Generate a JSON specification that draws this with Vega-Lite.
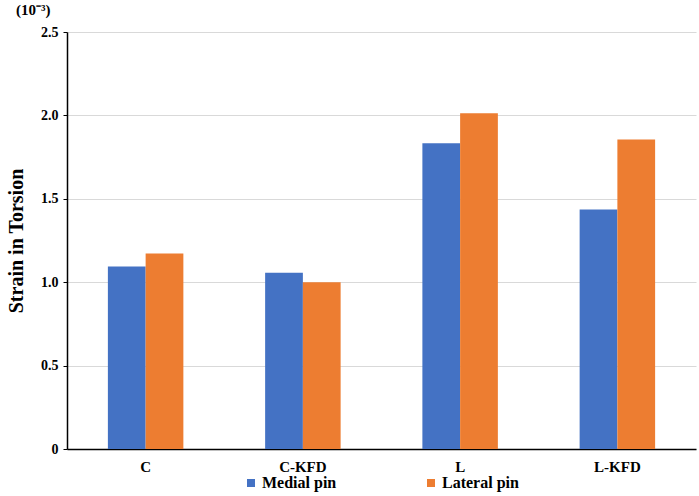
{
  "$schema": "https://vega.github.io/schema/vega-lite/v6.json",
  "autosize": "none",
  "width": 629,
  "height": 417,
  "padding": {"left": 67, "top": 32, "right": 3, "bottom": 47},
  "background": "white",
  "title": {
    "text": "(10⁻³)",
    "anchor": "start",
    "frame": "group",
    "dx": -51,
    "offset": 7,
    "fontSize": 15,
    "font": "Liberation Serif",
    "fontWeight": "bold",
    "color": "black"
  },
  "data": {
    "values": [
      {"group": "C", "pin": "Medial pin", "strain": 1.094},
      {"group": "C", "pin": "Lateral pin", "strain": 1.172},
      {"group": "C-KFD", "pin": "Medial pin", "strain": 1.056},
      {"group": "C-KFD", "pin": "Lateral pin", "strain": 1.0},
      {"group": "L", "pin": "Medial pin", "strain": 1.833},
      {"group": "L", "pin": "Lateral pin", "strain": 2.013},
      {"group": "L-KFD", "pin": "Medial pin", "strain": 1.436},
      {"group": "L-KFD", "pin": "Lateral pin", "strain": 1.856}
    ]
  },
  "mark": {"type": "bar"},
  "encoding": {
    "x": {
      "field": "group",
      "type": "nominal",
      "sort": ["C", "C-KFD", "L", "L-KFD"],
      "title": null,
      "scale": {"paddingInner": 0.52, "paddingOuter": 0.26},
      "axis": {
        "labelAngle": 0,
        "ticks": false,
        "domainColor": "black",
        "domainWidth": 1.5,
        "labelPadding": 10,
        "labelFontSize": 15
      }
    },
    "xOffset": {
      "field": "pin",
      "type": "nominal",
      "sort": ["Medial pin", "Lateral pin"],
      "scale": {"paddingInner": 0, "paddingOuter": 0}
    },
    "y": {
      "field": "strain",
      "type": "quantitative",
      "title": "Strain in Torsion",
      "scale": {"domain": [0, 2.5], "nice": false},
      "axis": {
        "values": [0, 0.5, 1, 1.5, 2, 2.5],
        "labelExpr": "datum.value == 0 ? '0' : format(datum.value, '.1f')",
        "domainColor": "black",
        "domainWidth": 1.5,
        "tickColor": "black",
        "tickSize": 4,
        "labelPadding": 5,
        "labelFontSize": 14,
        "titleFontSize": 20,
        "titlePadding": 14,
        "grid": true,
        "gridColor": "#d9d9d9"
      }
    },
    "color": {
      "field": "pin",
      "type": "nominal",
      "sort": ["Medial pin", "Lateral pin"],
      "scale": {
        "domain": ["Medial pin", "Lateral pin"],
        "range": ["#4472C4", "#ED7D31"]
      },
      "legend": {
        "title": null,
        "orient": "none",
        "direction": "horizontal",
        "legendX": 176,
        "legendY": 443,
        "columns": 2,
        "columnPadding": 86,
        "symbolType": "square",
        "symbolSize": 64,
        "symbolStrokeWidth": 0,
        "labelFontSize": 16,
        "labelOffset": 3
      }
    }
  },
  "config": {
    "font": "Liberation Serif",
    "view": {"stroke": null},
    "axis": {
      "labelFont": "Liberation Serif",
      "labelFontWeight": "bold",
      "labelColor": "black",
      "titleFont": "Liberation Serif",
      "titleFontWeight": "bold",
      "titleColor": "black"
    },
    "legend": {
      "labelFont": "Liberation Serif",
      "labelFontWeight": "bold",
      "labelColor": "black"
    }
  }
}
